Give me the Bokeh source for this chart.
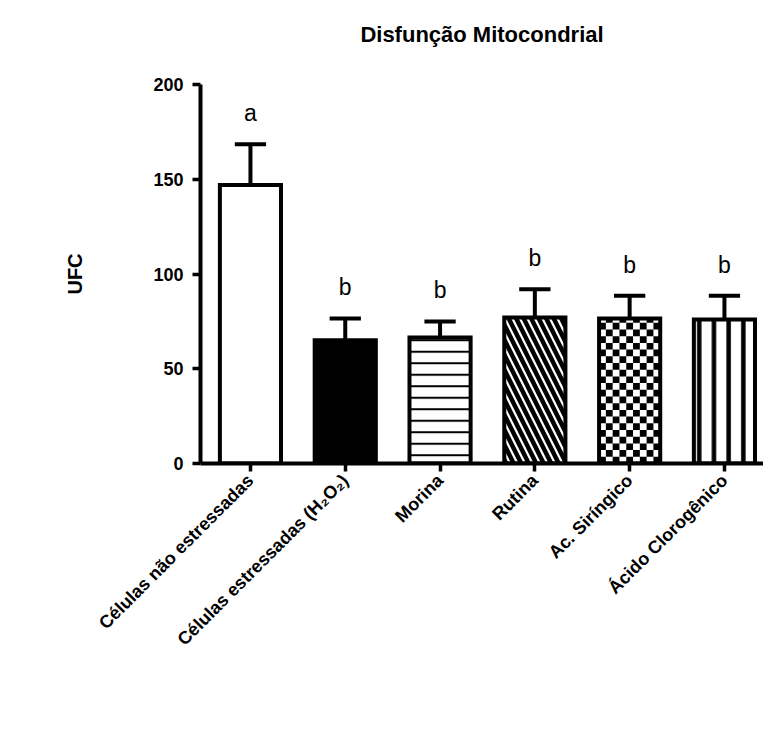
import math
import numpy as np
from bokeh.plotting import figure
from bokeh.models import Range1d, FixedTicker, LinearAxis
from bokeh.core.properties import value
from bokeh.embed import file_html
from bokeh.resources import INLINE

# ---- data ----
categories = ["Células não estressadas", "Células estressadas (H₂O₂)", "Morina",
              "Rutina", "Ac. Siríngico", "Ácido Clorogênico"]
means = [147, 65, 66.5, 77, 76.5, 76]
errors = [21.5, 11.5, 8.5, 15, 12, 12.5]
letters = ["a", "b", "b", "b", "b", "b"]
y_ticks = [0, 50, 100, 150, 200]
title_text = "Disfunção Mitocondrial"

FONT = "Liberation Sans"
W, H = 763, 749
BL, BR, BT, BB = 200, 0, 84, 286
X0, X1 = -0.527, 5.412
Y0, Y1 = 0, 200
BAR_W = 0.645
LW = 4
LETTER_GAP = 16.5

p = figure(width=W, height=H, output_backend="svg", toolbar_location=None,
           x_range=Range1d(X0, X1), y_range=Range1d(Y0, Y1),
           min_border_left=BL, min_border_right=BR, min_border_top=BT, min_border_bottom=BB)
p.outline_line_color = None
p.grid.visible = False
p.background_fill_color = "white"

xax = p.below[0]
yax = p.left[0]

frame_w = W - BL - BR
frame_h = H - BT - BB
xppu = frame_w / (X1 - X0)
yppu = frame_h / (Y1 - Y0)

xs = list(range(len(categories)))
tops = [m + e for m, e in zip(means, errors)]

# bar fills
styles = [
    dict(fill_color="white"),
    dict(fill_color="black"),
    dict(fill_color="white", hatch_pattern="horizontal_line", hatch_scale=11.5, hatch_weight=2, hatch_color="black"),
    dict(fill_color="white", hatch_pattern="left_diagonal_line", hatch_scale=15, hatch_weight=4.5, hatch_color="black"),
    dict(fill_color="white"),
    dict(fill_color="white", hatch_pattern="vertical_line", hatch_scale=14.7, hatch_weight=4.5, hatch_color="black"),
]
for i, st in enumerate(styles):
    p.vbar(x=[xs[i]], top=[means[i]], bottom=0, width=BAR_W, line_color=None, **st)

# checkerboard for bar 4
ci = 4
cell_px = 6.7
ncols = int(round(BAR_W * xppu / cell_px))
cw = BAR_W / ncols
ch = cell_px / yppu
nrows = int(math.ceil(means[ci] / ch))
ql, qr, qb, qt = [], [], [], []
for r in range(nrows):
    for c in range(ncols):
        if (r + c) % 2 == 0:
            left = xs[ci] - BAR_W / 2 + c * cw
            bot = r * ch
            ql.append(left); qr.append(left + cw)
            qb.append(bot); qt.append(min(bot + ch, means[ci]))
p.quad(left=ql, right=qr, bottom=qb, top=qt, fill_color="black", line_color=None)

# outlines
p.vbar(x=xs, top=means, bottom=0, width=BAR_W, fill_color=None, line_color="black",
       line_width=LW, line_join="miter")

# error bars (upper only)
p.segment(x0=xs, y0=means, x1=xs, y1=tops, line_color="black", line_width=LW)
cap = 0.33
p.segment(x0=[x - cap / 2 for x in xs], y0=tops, x1=[x + cap / 2 for x in xs], y1=tops,
          line_color="black", line_width=LW)

# significance letters
p.text(x=xs, y=[t + LETTER_GAP for t in tops], text=letters, text_align="center",
       text_baseline="alphabetic", text_font=value(FONT), text_font_size="23px", text_color="black")

# axes
for ax in (xax, yax):
    ax.axis_line_width = LW
    ax.axis_line_color = "black"
    ax.major_tick_line_width = 3.5
    ax.major_tick_line_color = "black"
    ax.major_tick_in = 0
    ax.major_tick_out = 8
    ax.minor_tick_line_color = None
    ax.major_label_text_font = FONT
    ax.major_label_text_font_style = "bold"
    ax.major_label_text_color = "black"

yax.ticker = FixedTicker(ticks=y_ticks)
yax.major_label_text_font_size = "18px"
yax.major_label_standoff = 9
yax.axis_label = "UFC"
yax.axis_label_text_font = FONT
yax.axis_label_text_font_size = "20px"
yax.axis_label_text_font_style = "bold"
yax.axis_label_text_color = "black"
yax.axis_label_standoff = 64

xax.ticker = FixedTicker(ticks=xs)
xax.major_label_overrides = {i: c for i, c in enumerate(categories)}
xax.major_label_orientation = math.pi / 4
xax.major_label_text_font_size = "18px"
xax.major_label_standoff = 6

# title as the label of an invisible axis above the frame
top_axis = LinearAxis(ticker=FixedTicker(ticks=[]), axis_label=title_text,
                      axis_line_color=None, major_tick_line_color=None,
                      minor_tick_line_color=None, major_tick_in=0, major_tick_out=0,
                      minor_tick_in=0, minor_tick_out=0,
                      major_label_text_font_size="0px", major_label_standoff=0,
                      axis_label_standoff=38, axis_label_text_font=FONT,
                      axis_label_text_font_size="22px", axis_label_text_font_style="bold",
                      axis_label_text_color="black")
p.add_layout(top_axis, "above")

open("out.html", "w").write(file_html(p, INLINE))
